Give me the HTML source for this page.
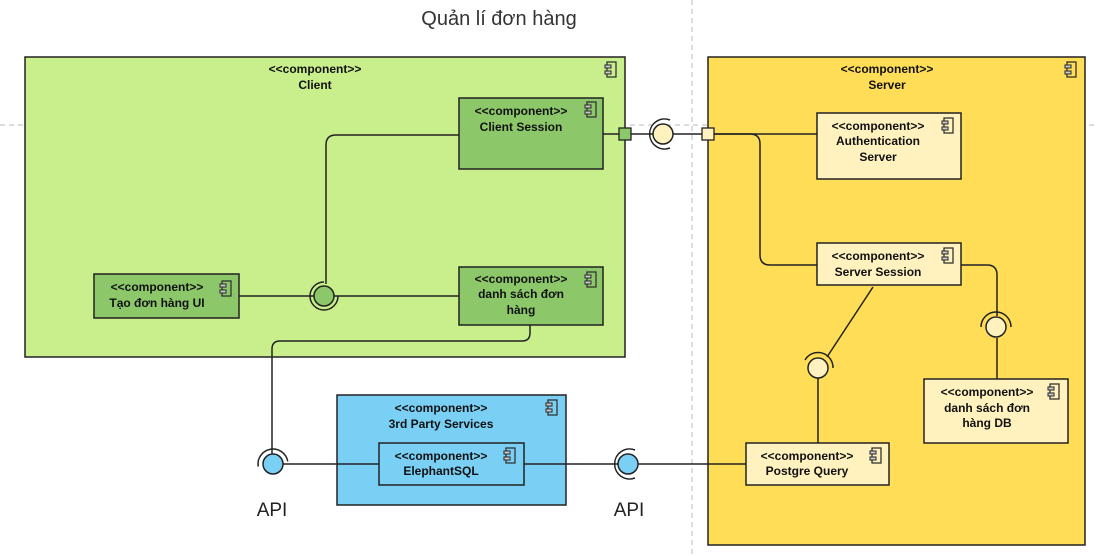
<!DOCTYPE html>
<html><head><meta charset="utf-8"><style>
body{margin:0;background:#fff}
svg{display:block;font-family:"Liberation Sans",Arial,sans-serif}
.st{font-size:12px;font-weight:bold;fill:#111;text-anchor:middle}
.ln{fill:none;stroke:#222;stroke-width:1.5}
</style></head><body>
<svg width="1098" height="556" viewBox="0 0 1098 556" xmlns="http://www.w3.org/2000/svg">
<defs>
<g id="ic"><rect x="2" y="0" width="9" height="15" fill="none" stroke="#333" stroke-width="1.3"/><rect x="0" y="3" width="6" height="3" fill="#ccc" stroke="#333" stroke-width="1.1"/><rect x="0" y="9" width="6" height="3" fill="#ccc" stroke="#333" stroke-width="1.1"/></g>
</defs>
<line x1="692" y1="0" x2="692" y2="556" stroke="#bbb" stroke-dasharray="5,4"/>
<line x1="0" y1="125" x2="1098" y2="125" stroke="#bbb" stroke-dasharray="5,4"/>
<text x="499" y="25" font-size="20" fill="#333" text-anchor="middle">Quản lí đơn hàng</text>

<!-- Client -->
<rect x="25" y="57" width="600" height="300" fill="#c9ef8c" stroke="#222" stroke-width="1.5"/>
<text class="st" x="315" y="73">&lt;&lt;component&gt;&gt;</text>
<text class="st" x="315" y="89">Client</text>
<use href="#ic" x="605" y="62"/>

<!-- Server -->
<rect x="708" y="57" width="377" height="488" fill="#ffdd57" stroke="#222" stroke-width="1.5"/>
<text class="st" x="887" y="73">&lt;&lt;component&gt;&gt;</text>
<text class="st" x="887" y="89">Server</text>
<use href="#ic" x="1065" y="62"/>

<!-- 3rd party -->
<rect x="337" y="395" width="229" height="110" fill="#7acff5" stroke="#222" stroke-width="1.5"/>
<text class="st" x="441" y="412">&lt;&lt;component&gt;&gt;</text>
<text class="st" x="441" y="428">3rd Party Services</text>
<use href="#ic" x="546" y="400"/>

<!-- connectors -->
<path class="ln" d="M459 135 H336 Q326 135 326 145 V284"/>
<path class="ln" d="M239 296 H314 M334 296 H459"/>
<path class="ln" d="M530 325 V333 Q530 341 522 341 H280 Q272 341 272 349 V454"/>
<path class="ln" d="M283 464 H379 M524 464 H618 M638 464 H746"/>
<path class="ln" d="M603 134 H653 M673 134 H817"/>
<path class="ln" d="M714 134 H750 Q760 134 760 144 V255 Q760 265 770 265 H817"/>
<path class="ln" d="M873 287 L827 357 M818 378 V443"/>
<path class="ln" d="M961 265 H987 Q997 265 997 275 V316 M997 338 V379"/>

<!-- boxes -->
<rect x="459" y="98" width="144" height="71" fill="#8cc86a" stroke="#222" stroke-width="1.5"/>
<text class="st" x="521" y="115">&lt;&lt;component&gt;&gt;</text>
<text class="st" x="521" y="131">Client Session</text>
<use href="#ic" x="585" y="102"/>

<rect x="94" y="274" width="145" height="44" fill="#8cc86a" stroke="#222" stroke-width="1.5"/>
<text class="st" x="157" y="291">&lt;&lt;component&gt;&gt;</text>
<text class="st" x="157" y="307">Tạo  đơn hàng UI</text>
<use href="#ic" x="220" y="281"/>

<rect x="459" y="267" width="144" height="58" fill="#8cc86a" stroke="#222" stroke-width="1.5"/>
<text class="st" x="521" y="283">&lt;&lt;component&gt;&gt;</text>
<text class="st" x="521" y="298">danh sách đơn</text>
<text class="st" x="521" y="314">hàng</text>
<use href="#ic" x="585" y="272"/>

<rect x="817" y="113" width="144" height="66" fill="#fff2bf" stroke="#222" stroke-width="1.5"/>
<text class="st" x="878" y="130">&lt;&lt;component&gt;&gt;</text>
<text class="st" x="878" y="145">Authentication</text>
<text class="st" x="878" y="161">Server</text>
<use href="#ic" x="942" y="118"/>

<rect x="817" y="243" width="144" height="42" fill="#fff2bf" stroke="#222" stroke-width="1.5"/>
<text class="st" x="878" y="260">&lt;&lt;component&gt;&gt;</text>
<text class="st" x="878" y="276">Server Session</text>
<use href="#ic" x="942" y="248"/>

<rect x="924" y="379" width="144" height="64" fill="#fff2bf" stroke="#222" stroke-width="1.5"/>
<text class="st" x="987" y="396">&lt;&lt;component&gt;&gt;</text>
<text class="st" x="987" y="412">danh sách đơn</text>
<text class="st" x="987" y="427">hàng DB</text>
<use href="#ic" x="1048" y="384"/>

<rect x="746" y="443" width="143" height="42" fill="#fff2bf" stroke="#222" stroke-width="1.5"/>
<text class="st" x="807" y="460">&lt;&lt;component&gt;&gt;</text>
<text class="st" x="807" y="475">Postgre Query</text>
<use href="#ic" x="870" y="448"/>

<rect x="379" y="443" width="145" height="42" fill="#7acff5" stroke="#222" stroke-width="1.5"/>
<text class="st" x="441" y="460">&lt;&lt;component&gt;&gt;</text>
<text class="st" x="441" y="475">ElephantSQL</text>
<use href="#ic" x="504" y="448"/>

<!-- ports -->
<rect x="619" y="128" width="12" height="12" fill="#8cc86a" stroke="#222" stroke-width="1.3"/>
<rect x="702" y="128" width="12" height="12" fill="#fff2bf" stroke="#222" stroke-width="1.3"/>

<!-- interfaces -->
<circle cx="663" cy="134" r="10" fill="#fff2bf" stroke="#222" stroke-width="1.5"/>
<path class="ln" d="M670 120 A15 15 0 1 0 670 148"/>

<circle cx="324" cy="296" r="10" fill="#8cc86a" stroke="#222" stroke-width="1.5"/>
<path class="ln" d="M338 296 A14 14 0 1 1 324 282"/>

<circle cx="273" cy="464" r="10" fill="#7acff5" stroke="#222" stroke-width="1.5"/>
<path class="ln" d="M258 464 A15 15 0 0 1 288 464" transform="rotate(-10 273 464)"/>

<circle cx="628" cy="464" r="10" fill="#7acff5" stroke="#222" stroke-width="1.5"/>
<path class="ln" d="M635 450 A15 15 0 1 0 635 478"/>

<circle cx="818" cy="368" r="10" fill="#fff2bf" stroke="#222" stroke-width="1.5"/>
<path class="ln" d="M805 360 A15 15 0 0 1 833 368" />

<circle cx="996" cy="327" r="10" fill="#fff2bf" stroke="#222" stroke-width="1.5"/>
<path class="ln" d="M981 327 A15 15 0 0 1 1011 327"/>

<text x="272" y="516" font-size="19" fill="#222" text-anchor="middle">API</text>
<text x="629" y="516" font-size="19" fill="#222" text-anchor="middle">API</text>
</svg>
</body></html>
